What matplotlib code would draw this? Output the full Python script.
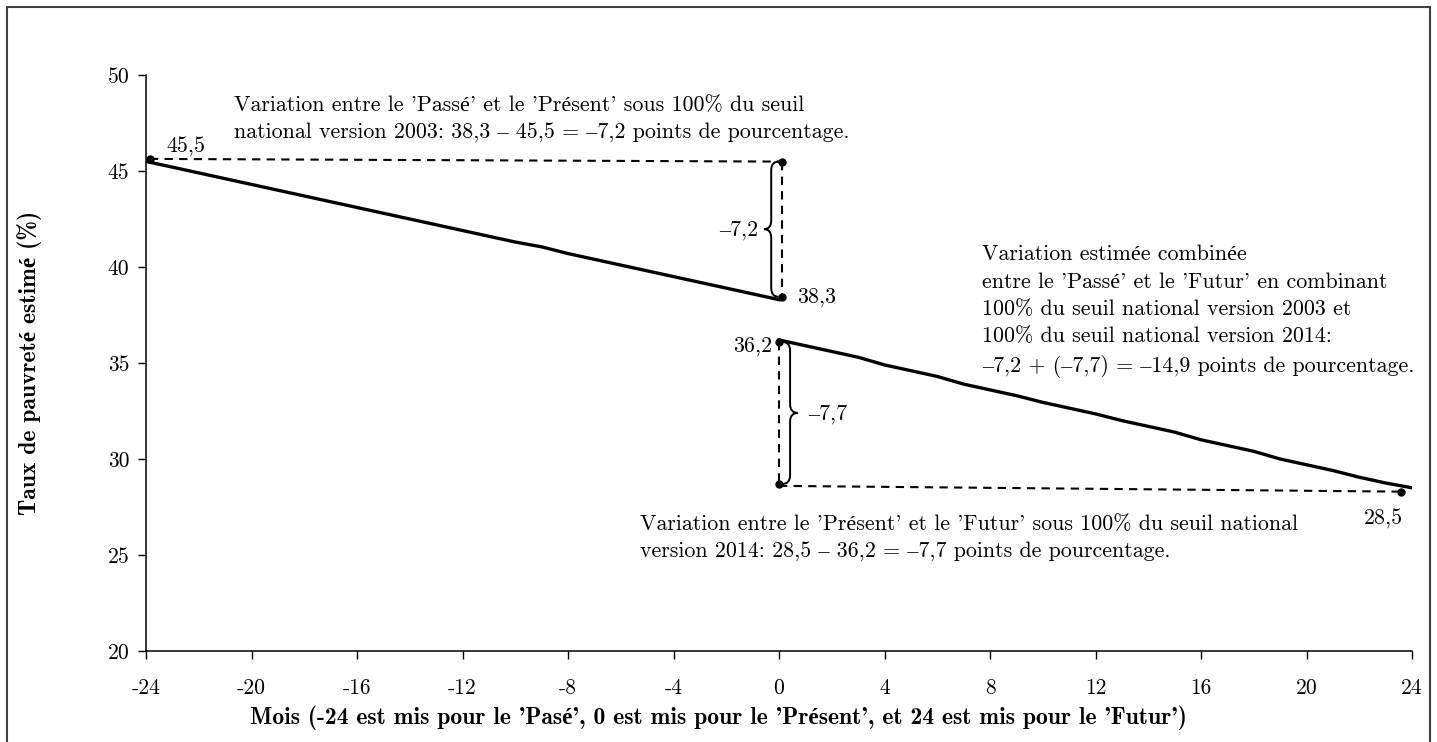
import matplotlib
matplotlib.use("Agg")
import matplotlib.pyplot as plt
from matplotlib.path import Path
from matplotlib.patches import PathPatch, Rectangle

plt.rcParams['axes.unicode_minus'] = False
plt.rcParams['font.family'] = ['cmr10', 'Liberation Serif']

# ---- data ----
months_past = list(range(-24, 1))
rate_past = [45.5, 45.2, 44.9, 44.6, 44.3, 44.0, 43.7, 43.4, 43.1, 42.8, 42.5, 42.2,
             41.9, 41.6, 41.3, 41.05, 40.7, 40.4, 40.1, 39.8, 39.5, 39.2, 38.9, 38.6, 38.3]
months_future = list(range(0, 25))
rate_future = [36.2, 35.9, 35.6, 35.3, 34.9, 34.6, 34.3, 33.9, 33.6, 33.3, 32.95, 32.65,
               32.35, 32.0, 31.7, 31.4, 31.0, 30.7, 30.4, 30.0, 29.7, 29.4, 29.05, 28.75, 28.5]
xticks = list(range(-24, 25, 4))
yticks = list(range(20, 51, 5))

# annotation anchor points (month, value)
pt_past = (-23.85, 45.63)
pt_pres_top = (0.1, 45.49)
pt_pres_low = (0.1, 38.45)
pt_pres_new = (0.0, 36.1)
pt_pres_new_low = (0.0, 28.7)
pt_fut = (23.6, 28.3)

fig = plt.figure(figsize=(14.37, 7.42), dpi=100)
ax = fig.add_axes([146/1437, 1-651/742, (1412-146)/1437, (651-75)/742])

ax.plot(months_past, rate_past, color='black', lw=2.4, solid_joinstyle='round')
ax.plot(months_future, rate_future, color='black', lw=2.4, solid_joinstyle='round')

ax.set_xlim(-24, 24)
ax.set_ylim(20, 50)
ax.set_xticks(xticks)
ax.set_yticks(yticks)
ax.set_xticklabels([str(t) for t in xticks], fontsize=15.5)
ax.set_yticklabels([str(t) for t in yticks], fontsize=15.5)
ax.tick_params(direction='out', length=6, width=1, pad=6)
ax.tick_params(axis='x', pad=14)
for s in ['top', 'right']:
    ax.spines[s].set_visible(False)
for s in ['left', 'bottom']:
    ax.spines[s].set_linewidth(1.1)

bold_fam = ['cmb10', 'Liberation Serif']
ax.set_xlabel("Mois (-24 est mis pour le 'Pasé', 0 est mis pour le 'Présent', et 24 est mis pour le 'Futur')",
              fontsize=17, family=bold_fam, fontweight='bold')
ax.xaxis.set_label_coords((718 - 146) / 1266, -0.095)
ax.set_ylabel("Taux de pauvreté estimé (%)", fontsize=17, family=bold_fam, fontweight='bold', labelpad=47)

dash = dict(color='black', lw=1.5, ls=(0, (4, 3)))
ax.plot([pt_past[0], pt_pres_top[0]], [pt_past[1], pt_pres_top[1]], **dash)
ax.plot([pt_pres_top[0], pt_pres_low[0]], [pt_pres_top[1], pt_pres_low[1]], **dash)
ax.plot([pt_pres_new[0], pt_pres_new_low[0]], [pt_pres_new[1], pt_pres_new_low[1]], **dash)
ax.plot([pt_pres_new_low[0], pt_fut[0]], [pt_pres_new_low[1] - 0.1, pt_fut[1]], **dash)

for p in [pt_past, pt_pres_top, pt_pres_low, pt_pres_new, pt_pres_new_low, pt_fut]:
    ax.plot(p[0], p[1], 'o', color='black', ms=5, zorder=5)


def brace(ax, x0, y0, y1, w, r, side):
    # side = -1 left-pointing, +1 right-pointing
    ym = (y0 + y1) / 2
    xb = x0 + side * w / 2
    xt = x0 + side * w
    verts = [(x0, y1), (xb, y1), (xb, y1 - r),
             (xb, ym + r), (xb, ym), (xt, ym),
             (xb, ym), (xb, ym - r),
             (xb, y0 + r), (xb, y0), (x0, y0)]
    codes = [Path.MOVETO, Path.CURVE3, Path.CURVE3,
             Path.LINETO, Path.CURVE3, Path.CURVE3,
             Path.CURVE3, Path.CURVE3,
             Path.LINETO, Path.CURVE3, Path.CURVE3]
    ax.add_patch(PathPatch(Path(verts, codes), fc='none', ec='black', lw=1.4))


brace(ax, -0.02, pt_pres_low[1], pt_pres_top[1], 0.55, 0.45, -1)
brace(ax, 0.12, pt_pres_new_low[1], pt_pres_new[1], 0.6, 0.45, +1)

fs = 15.8
ax.text(-0.8, 41.9, "–7,2", fontsize=fs, ha='right', va='center')
ax.text(1.1, 32.35, "–7,7", fontsize=fs, ha='left', va='center')
ax.text(-22.5, 46.25, "45,5", fontsize=fs, ha='center', va='center')
ax.text(0.68, 38.4, "38,3", fontsize=fs, ha='left', va='center')
ax.text(-0.27, 35.85, "36,2", fontsize=fs, ha='right', va='center')
ax.text(22.9, 26.85, "28,5", fontsize=fs, ha='center', va='center')

ax.text(-20.66, 47.7,
        "Variation entre le 'Passé' et le 'Présent' sous 100% du seuil\n"
        "national version 2003: 38,3 – 45,5 = –7,2 points de pourcentage.",
        fontsize=fs, ha='left', va='center', linespacing=1.5)
ax.text(7.7, 37.7,
        "Variation estimée combinée\n"
        "entre le 'Passé' et le 'Futur' en combinant\n"
        "100% du seuil national version 2003 et\n"
        "100% du seuil national version 2014:\n"
        "–7,2 + (–7,7) = –14,9 points de pourcentage.",
        fontsize=fs, ha='left', va='center', linespacing=1.5)
ax.text(-5.27, 25.86,
        "Variation entre le 'Présent' et le 'Futur' sous 100% du seuil national\n"
        "version 2014: 28,5 – 36,2 = –7,7 points de pourcentage.",
        fontsize=fs, ha='left', va='center', linespacing=1.5)

fig.patches.append(Rectangle((7/1437, -0.05), (1430-7)/1437, 1.05 - 7/742,
                             transform=fig.transFigure, fill=False, ec='#404040', lw=1.5))

fig.savefig('out.png', dpi=100)
